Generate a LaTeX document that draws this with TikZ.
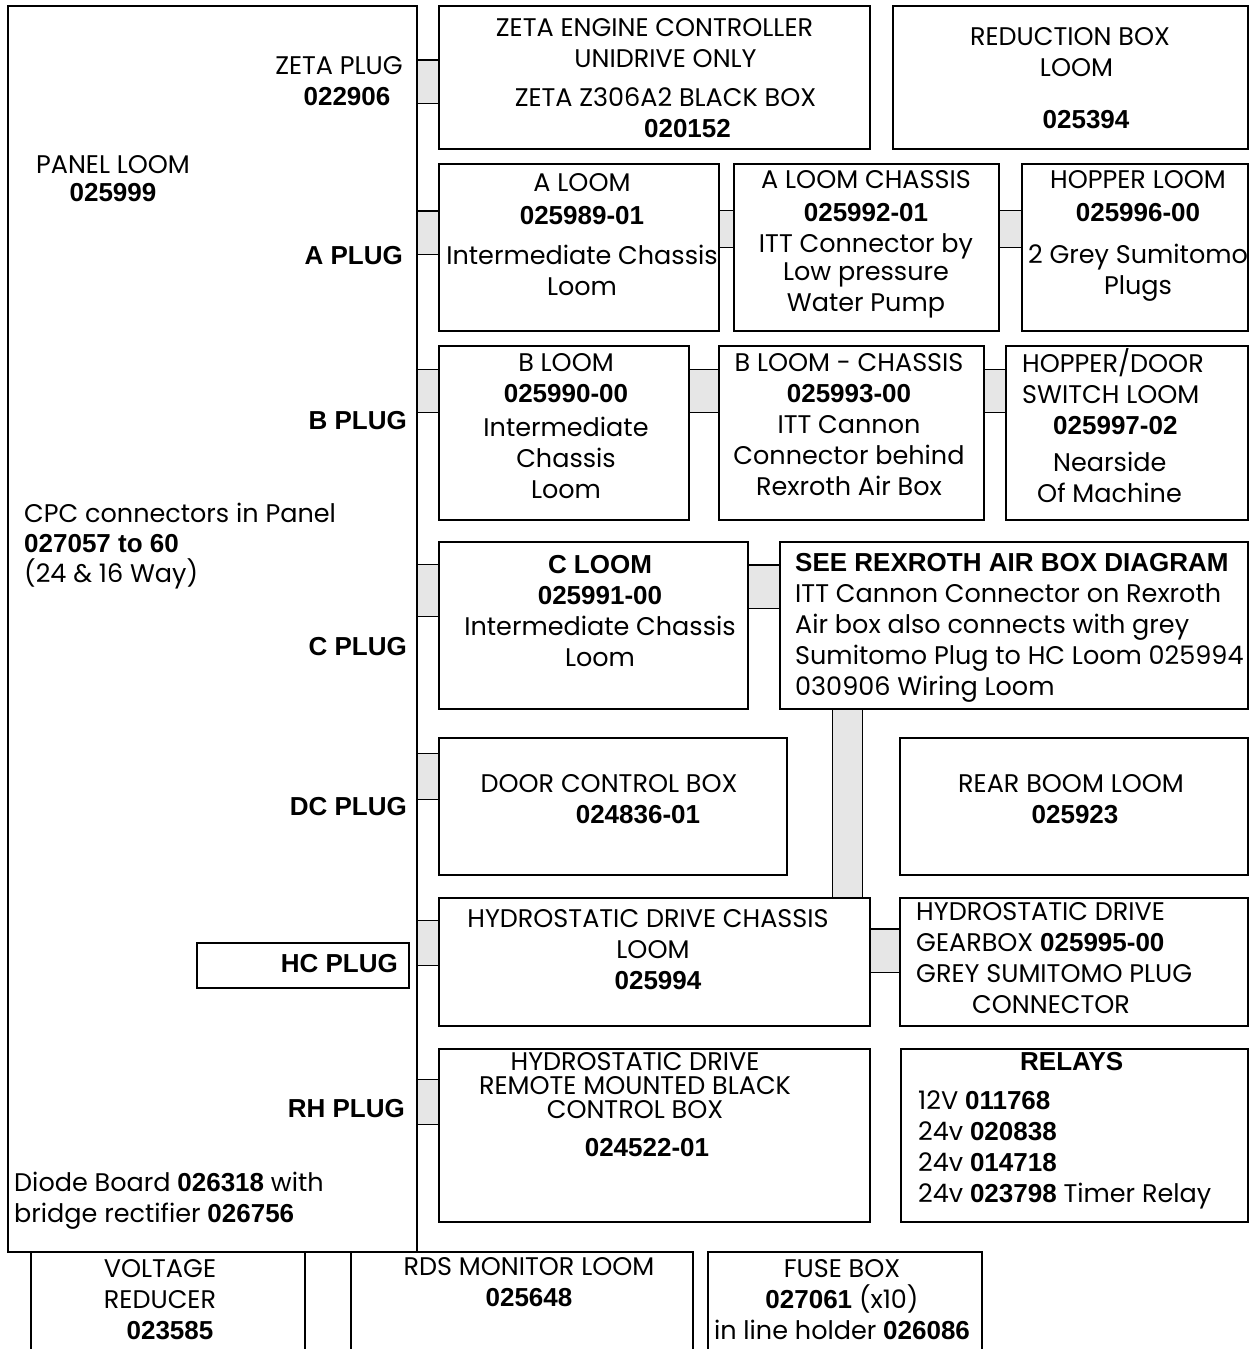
\documentclass[tikz,border=0pt]{standalone}
\usepackage{fontspec}
\setmainfont{Poppins}
\newfontfamily\arialfont{Liberation Sans}
\usepackage{tikz}
\definecolor{barGray}{RGB}{230,230,230}
\newcommand{\boldlab}[1]{{\fontsize{26}{31}\selectfont\arialfont\bfseries #1}}
\newcommand{\nudge}[2]{\hspace*{#1}#2\hspace*{-#1}}
\tikzstyle{unit} = [rectangle, draw, line width=2pt, inner sep=0pt]
\tikzstyle{bar}  = [line width=1.2pt, double=barGray, double distance=42pt]

\begin{document}
\begin{tikzpicture}[
  x=1pt, y=-1pt,
  txt/.style={inner sep=0pt, align=center, font=\fontsize{25.5}{31}\selectfont},
  txtl/.style={inner sep=0pt, align=left, anchor=west, font=\fontsize{25.5}{31}\selectfont},
  plug/.style={inner sep=0pt, anchor=east, font=\fontsize{26}{31}\selectfont\arialfont\bfseries}
]
  \useasboundingbox (0,0) rectangle (1257,1349);
  \clip (0,0) rectangle (1257,1349);

  % Panel loom
  \node[unit, minimum width=409pt, minimum height=1246pt] (panel) at (212.5,629) {};
  \node[unit, minimum width=212pt, minimum height=45pt] (hcbox) at (303,965.5) {};
  \node[txt] (zetaplug) at (339,81.5) {ZETA PLUG\\\nudge{8pt}{\boldlab{022906}}};
  \node[txt, font=\fontsize{25.5}{27.5}\selectfont] (panelname) at (113,178.5) {PANEL LOOM\\\boldlab{025999}};
  \node[plug] (plugA) at (403,256) {A PLUG};
  \node[plug] (plugB) at (407,421) {B PLUG};
  \node[txtl, font=\fontsize{25.5}{30}\selectfont] (cpc) at (24,546) {CPC connectors in Panel\\\boldlab{027057 to 60}\\(24 \& 16 Way)};
  \node[plug] (plugC) at (407,647) {C PLUG};
  \node[plug] (plugDC) at (407,807) {DC PLUG};
  \node[plug] (plugHC) at (398,964) {HC PLUG};
  \node[plug] (plugRH) at (405,1109) {RH PLUG};
  \node[txtl] (diode) at (14,1201) {Diode Board \boldlab{026318} with\\bridge rectifier \boldlab{026756}};

  % Units
  \node[unit, minimum width=431pt, minimum height=143pt] (zeta) at (654.5,77.5) {};
  \node[unit, minimum width=355pt, minimum height=143pt] (redbox) at (1070.5,77.5) {};
  \node[unit, minimum width=280pt, minimum height=167pt] (aloom) at (579,247.5) {};
  \node[unit, minimum width=265pt, minimum height=167pt] (achassis) at (866.5,247.5) {};
  \node[unit, minimum width=226pt, minimum height=167pt] (hopper) at (1135,247.5) {};
  \node[unit, minimum width=250pt, minimum height=174pt] (bloom) at (564,433) {};
  \node[unit, minimum width=265pt, minimum height=174pt] (bchassis) at (851.5,433) {};
  \node[unit, minimum width=242pt, minimum height=174pt] (hopdoor) at (1127,433) {};
  \node[unit, minimum width=309pt, minimum height=167pt] (cloom) at (593.5,625.5) {};
  \node[unit, minimum width=468pt, minimum height=167pt] (rexroth) at (1014,625.5) {};
  \node[unit, minimum width=348pt, minimum height=137pt] (doorbox) at (613,806.5) {};
  \node[unit, minimum width=348pt, minimum height=137pt] (rearboom) at (1074,806.5) {};
  \node[unit, minimum width=431pt, minimum height=128pt] (hydchassis) at (654.5,962) {};
  \node[unit, minimum width=348pt, minimum height=128pt] (gearbox) at (1074,962) {};
  \node[unit, minimum width=431pt, minimum height=173pt] (hydremote) at (654.5,1135.5) {};
  \node[unit, minimum width=347pt, minimum height=173pt] (relays) at (1074.5,1135.5) {};
  \node[unit, minimum width=274pt, minimum height=128pt] (voltred) at (168,1316) {};
  \node[unit, minimum width=342pt, minimum height=128pt] (rds) at (522,1316) {};
  \node[unit, minimum width=274pt, minimum height=128pt] (fusebox) at (845,1316) {};

  % Texts of the units
  \node[txt] (zetatxt) at (654.5,78) {ZETA ENGINE CONTROLLER\\\nudge{22pt}{UNIDRIVE ONLY}\\[8pt]\nudge{22pt}{ZETA Z306A2 BLACK BOX}\\\nudge{33pt}{\boldlab{020152}}};
  \node[txt] (redtxt) at (1070,78) {REDUCTION BOX\\\nudge{13pt}{LOOM}\\[21pt]\nudge{16pt}{\boldlab{025394}}};
  \node[txt] (alooomtxt) at (582,235) {A LOOM\\[2pt]\boldlab{025989-01}\\[9pt]Intermediate Chassis\\Loom};
  \node[txt] (achastxt) at (866,244) {A LOOM CHASSIS\\[2pt]\boldlab{025992-01}\\ITT Connector by\\[-3pt]Low pressure\\Water Pump};
  \node[txt] (hoppertxt) at (1138,236) {HOPPER LOOM\\[2pt]\boldlab{025996-00}\\[11pt]2 Grey Sumitomo\\Plugs};
  \node[txt] (bloomtxt) at (566,426) {B LOOM\\\boldlab{025990-00}\\[3pt]Intermediate\\Chassis\\Loom};
  \node[txt] (bchastxt) at (849,425) {B LOOM - CHASSIS\\\boldlab{025993-00}\\ITT Cannon\\Connector behind\\Rexroth Air Box};
  \node[txtl] (hopdoortxt) at (1022,426) {HOPPER/DOOR\\SWITCH LOOM\\\hspace*{31pt}\boldlab{025997-02}\\[6pt]\hspace*{31pt}Nearside\\\hspace*{15pt}Of Machine};
  \node[txt] (cloomtxt) at (600,611) {\boldlab{C LOOM}\\\boldlab{025991-00}\\Intermediate Chassis\\Loom};
  \node[txtl] (rextxt) at (795,628) {\boldlab{SEE REXROTH AIR BOX DIAGRAM}\\ITT Cannon Connector on Rexroth\\Air box also connects with grey\\Sumitomo Plug to HC Loom 025994\\030906 Wiring Loom};
  \node[txt] (doortxt) at (609,799.5) {DOOR CONTROL BOX\\\nudge{29pt}{\boldlab{024836-01}}};
  \node[txt] (reartxt) at (1071,799) {REAR BOOM LOOM\\\nudge{4pt}{\boldlab{025923}}};
  \node[txt] (hydchastxt) at (648,950) {HYDROSTATIC DRIVE CHASSIS\\\nudge{10pt}{LOOM}\\\nudge{10pt}{\boldlab{025994}}};
  \node[txtl] (geartxt) at (916,958) {HYDROSTATIC DRIVE\\GEARBOX \boldlab{025995-00}\\GREY SUMITOMO PLUG\\\hspace*{56pt}CONNECTOR};
  \node[txt, font=\fontsize{25.5}{24}\selectfont] (hydremtxt) at (635,1105) {HYDROSTATIC DRIVE\\REMOTE MOUNTED BLACK\\CONTROL BOX\\[14pt]\nudge{12pt}{\boldlab{024522-01}}};
  \node[txtl] (relaytxt) at (918,1131) {\hspace*{102pt}\boldlab{RELAYS}\\[8pt]12V \boldlab{011768}\\24v \boldlab{020838}\\24v \boldlab{014718}\\24v \boldlab{023798} Timer Relay};
  \node[txt] (volttxt) at (160,1300) {VOLTAGE\\REDUCER\\\nudge{10pt}{\boldlab{023585}}};
  \node[txt] (rdstxt) at (529,1282) {RDS MONITOR LOOM\\\boldlab{025648}};
  \node[txt] (fusetxt) at (842,1300) {FUSE BOX\\\boldlab{027061} (x10)\\in line holder \boldlab{026086}};

  % Plug bars
  \draw[bar] (panel.east |- 0,81.5) -- (zeta.west |- 0,81.5);
  \draw[bar] (panel.east |- 0,232.5) -- (aloom.west |- 0,232.5);
  \draw[bar, double distance=35.6pt] (aloom.east |- 0,229) -- (achassis.west |- 0,229);
  \draw[bar, double distance=35.6pt] (achassis.east |- 0,229) -- (hopper.west |- 0,229);
  \draw[bar] (panel.east |- 0,391) -- (bloom.west |- 0,391);
  \draw[bar] (bloom.east |- 0,391) -- (bchassis.west |- 0,391);
  \draw[bar] (bchassis.east |- 0,391) -- (hopdoor.west |- 0,391);
  \draw[bar, double distance=50.6pt] (panel.east |- 0,590.5) -- (cloom.west |- 0,590.5);
  \draw[bar] (cloom.east |- 0,586.5) -- (rexroth.west |- 0,586.5);
  \draw[bar, double distance=44.6pt] (panel.east |- 0,776.5) -- (doorbox.west |- 0,776.5);
  \draw[bar, double distance=28.6pt] (rexroth.south -| 847.5,0) -- (hydchassis.north -| 847.5,0);
  \draw[bar, double distance=43.6pt] (panel.east |- 0,943) -- (hydchassis.west |- 0,943);
  \draw[bar] (hydchassis.east |- 0,950.5) -- (gearbox.west |- 0,950.5);
  \draw[bar, double distance=43.6pt] (panel.east |- 0,1102) -- (hydremote.west |- 0,1102);
\end{tikzpicture}
\end{document}
